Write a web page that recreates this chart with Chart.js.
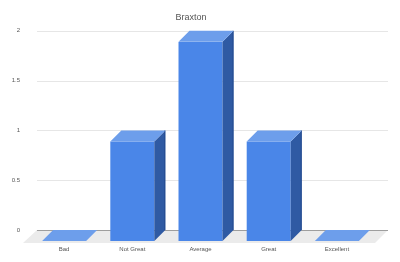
<!DOCTYPE html>
<html>
<head>
<meta charset="utf-8">
<script src="https://cdn.jsdelivr.net/npm/chart.js@4"></script>
<style>
  html, body { margin: 0; padding: 0; background: #fff; }
  #wrap { width: 400px; height: 262px; }
</style>
</head>
<body>
<div id="wrap"><canvas id="barChart"></canvas></div>
<script>
// ratings for Braxton
let categories = ["Bad", "Not Great", "Average", "Great", "Excellent"];
let values = [0, 1, 2, 1, 0];
let yTicks = [0, 0.5, 1, 1.5, 2];

// depth of the fake 3d effect
const depth = 11;

// floor + gridlines behind the bars
const backPlane = {
  id: "backPlane",
  beforeDatasetsDraw(chart) {
    const ctx = chart.ctx;
    const y = chart.scales.y;
    const area = chart.chartArea;
    const left = area.left - 4;
    const right = area.right + 6;
    const zero = y.getPixelForValue(0);
    ctx.save();
    // floor
    ctx.fillStyle = "#ebebeb";
    ctx.beginPath();
    ctx.moveTo(left, zero);
    ctx.lineTo(right, zero);
    ctx.lineTo(right - 13, zero + 13);
    ctx.lineTo(left - 14, zero + 13);
    ctx.closePath();
    ctx.fill();
    // gridlines
    yTicks.forEach((t) => {
      const py = Math.round(y.getPixelForValue(t)) + 0.5;
      ctx.strokeStyle = t === 0 ? "#9e9e9e" : "#e6e6e6";
      ctx.lineWidth = 1;
      ctx.beginPath();
      ctx.moveTo(left, py);
      ctx.lineTo(right, py);
      ctx.stroke();
    });
    ctx.restore();
  },
  beforeDatasetDraw(chart) {
    chart.ctx.save();
    chart.ctx.translate(-depth, depth);
  },
  afterDatasetDraw(chart, args) {
    const ctx = chart.ctx;
    args.meta.data.forEach((bar) => {
      const p = bar.getProps(["x", "y", "base", "width"], true);
      const x0 = p.x - p.width / 2;
      const x1 = p.x + p.width / 2;
      // side face
      if (p.base - p.y > 0.5) {
        ctx.fillStyle = "#2f5aa3";
        ctx.beginPath();
        ctx.moveTo(x1, p.y);
        ctx.lineTo(x1 + depth, p.y - depth);
        ctx.lineTo(x1 + depth, p.base - depth);
        ctx.lineTo(x1, p.base);
        ctx.closePath();
        ctx.fill();
        ctx.strokeStyle = "#234a8f";
        ctx.beginPath();
        ctx.moveTo(x1 + depth - 0.5, p.y - depth);
        ctx.lineTo(x1 + depth - 0.5, p.base - depth);
        ctx.stroke();
      }
      // top face
      ctx.fillStyle = "#6d9eeb";
      ctx.beginPath();
      ctx.moveTo(x0, p.y);
      ctx.lineTo(x1, p.y);
      ctx.lineTo(x1 + depth, p.y - depth);
      ctx.lineTo(x0 + depth, p.y - depth);
      ctx.closePath();
      ctx.fill();
    });
    ctx.restore();
  },
};

const config = {
  type: "bar",
  data: {
    labels: categories,
    datasets: [
      {
        data: values,
        backgroundColor: "#4a86e8",
        borderWidth: 0,
        categoryPercentage: 1,
        barPercentage: 0.645,
      },
    ],
  },
  options: {
    responsive: true,
    maintainAspectRatio: false,
    animation: false,
    layout: { padding: { left: 0, right: 18, top: 0, bottom: 0 } },
    plugins: {
      legend: { display: false },
      tooltip: { enabled: false },
      title: {
        display: true,
        text: "Braxton",
        color: "#555",
        font: { family: "Liberation Sans, Arial", size: 9, weight: "normal" },
        padding: { top: 12, bottom: 8 },
      },
    },
    scales: {
      x: {
        grid: { display: false },
        border: { display: false },
        ticks: {
          color: "#555",
          font: { family: "Liberation Sans, Arial", size: 6 },
          padding: 8,
          labelOffset: -depth,
          maxRotation: 0,
        },
        afterFit(scale) {
          scale.height = 32;
        },
      },
      y: {
        min: 0,
        max: 2,
        grid: { display: false },
        border: { display: false },
        afterBuildTicks(scale) {
          scale.ticks = yTicks.map((v) => ({ value: v }));
        },
        ticks: {
          color: "#555",
          font: { family: "Liberation Sans, Arial", size: 6 },
          padding: 13,
          callback: (v) => String(v),
        },
        afterFit(scale) {
          scale.width = 41;
        },
      },
    },
  },
  plugins: [backPlane],
};

const barChart = new Chart(document.getElementById("barChart"), config);
</script>
</body>
</html>
